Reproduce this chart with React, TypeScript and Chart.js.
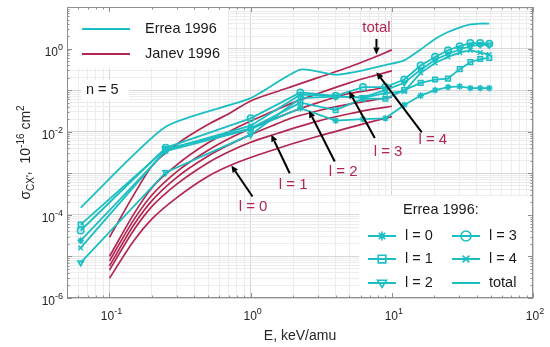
import React, { useEffect, useRef } from 'react';
import { Chart, registerables } from 'chart.js';
Chart.register(...registerables);

const TEAL = '#1bbfc3';
const RED = '#b3264f';
const FONT = '"Liberation Sans", Arial, Helvetica, sans-serif';

// Errea 1996 (energies keV/amu)
const E_ERREA = [0.0625, 0.25, 1, 2.25, 4, 6.25, 9, 12.25, 16, 20.25, 25, 30.25, 36, 42.25, 49];
const ERREA_L0 = [2.4e-5, 0.0034, 0.0115, 0.037, 0.0185, 0.02, 0.021, 0.044, 0.074, 0.1, 0.118, 0.123, 0.112, 0.112, 0.112];
const ERREA_L1 = [5.8e-5, 0.0038, 0.012, 0.05, 0.033, 0.062, 0.062, 0.1, 0.15, 0.18, 0.19, 0.32, 0.47, 0.56, 0.6];
const ERREA_L2 = [7.1e-6, 0.00105, 0.0085, 0.064, 0.07, 0.067, 0.1, 0.15, 0.31, 0.54, 0.74, 0.95, 1.15, 1.25, 1.22];
const ERREA_L3 = [4.2e-5, 0.0041, 0.021, 0.088, 0.073, 0.118, 0.118, 0.18, 0.39, 0.63, 0.91, 1.14, 1.35, 1.35, 1.3];
const ERREA_L4 = [1.6e-5, 0.0036, 0.014, 0.078, 0.072, 0.065, 0.085, 0.093, 0.26, 0.45, 0.63, 0.8, 0.92, 0.8, 0.72];
const ERREA_TOTAL = [1.5e-4, 0.0132, 0.064, 0.31, 0.235, 0.3, 0.4, 0.52, 0.95, 1.7, 2.5, 3.2, 3.8, 4.0, 4.0];

// Janev 1996
const E_JANEV = [0.1, 0.15, 0.2, 0.3, 0.5, 0.7, 1, 1.5, 2, 3, 5, 7, 10];
const JANEV_L0 = [3e-6, 2.5e-5, 8e-5, 2.6e-4, 8.5e-4, 1.5e-3, 2.4e-3, 3.8e-3, 5.2e-3, 7.8e-3, 0.0125, 0.017, 0.023];
const JANEV_L1 = [4.7e-6, 4.5e-5, 1.6e-4, 5.5e-4, 1.8e-3, 3.3e-3, 5.6e-3, 8.8e-3, 0.012, 0.018, 0.027, 0.034, 0.041];
const JANEV_L2 = [5.9e-6, 6e-5, 2.2e-4, 8e-4, 2.6e-3, 4.8e-3, 8.5e-3, 0.015, 0.022, 0.032, 0.046, 0.056, 0.068];
const JANEV_L3 = [7.8e-6, 8e-5, 3e-4, 1.1e-3, 3.6e-3, 6.8e-3, 0.012, 0.021, 0.031, 0.05, 0.083, 0.1, 0.125];
const JANEV_L4 = [1e-5, 1.1e-4, 4.5e-4, 1.6e-3, 5.4e-3, 0.01, 0.018, 0.033, 0.05, 0.083, 0.15, 0.21, 0.29];
const JANEV_TOTAL = [2.9e-5, 3.2e-4, 1.5e-3, 5e-3, 0.015, 0.027, 0.055, 0.09, 0.125, 0.2, 0.36, 0.56, 0.93];

// axes
const X_MIN = 0.05, X_MAX = 100, Y_MIN = 1e-6, Y_MAX = 10;
const X_TICK_EXP = [-1, 0, 1, 2];
const Y_TICK_EXP = [0, -2, -4, -6];

// annotations (red labels with arrows), in data coordinates
const ANN_LABELS = ['total', 'l = 4', 'l = 3', 'l = 2', 'l = 1', 'l = 0'];
const ANN_TEXT_E = [7.78, 19.5, 9.4, 4.52, 2.0, 1.04];
const ANN_TEXT_S = [3.15, 0.0062, 0.00335, 0.0011, 5.3e-4, 1.58e-4];
const ARROW_TAIL_E = [7.78, 16.3, 7.57, 3.94, 1.89, 1.03];
const ARROW_TAIL_S = [1.71, 0.0096, 0.00705, 0.00192, 1.0e-3, 2.76e-4];
const ARROW_HEAD_E = [7.78, 7.78, 4.98, 2.59, 1.4, 0.73];
const ARROW_HEAD_S = [0.716, 0.268, 0.0935, 0.032, 0.0085, 1.54e-3];

const ERREA_SERIES = [
  { label: 'l = 0', data: ERREA_L0, style: 'star', rot: 0 },
  { label: 'l = 1', data: ERREA_L1, style: 'rect', rot: 0 },
  { label: 'l = 2', data: ERREA_L2, style: 'triangle', rot: 180 },
  { label: 'l = 3', data: ERREA_L3, style: 'circle', rot: 0 },
  { label: 'l = 4', data: ERREA_L4, style: 'crossRot', rot: 0 },
];
const JANEV_SERIES = [JANEV_L0, JANEV_L1, JANEV_L2, JANEV_L3, JANEV_L4, JANEV_TOTAL];

function logTicks(min: number, max: number) {
  const out: { value: number }[] = [];
  for (let e = -7; e <= 3; e++) {
    for (let m = 1; m <= 9; m++) {
      const v = m * Math.pow(10, e);
      if (v >= min * 0.9999 && v <= max * 1.0001) out.push({ value: v });
    }
  }
  return out;
}
function isMajor(v: number) {
  const l = Math.log10(v);
  return Math.abs(l - Math.round(l)) < 1e-6;
}

function drawMarker(ctx: CanvasRenderingContext2D, style: string, x: number, y: number, r: number) {
  ctx.beginPath();
  if (style === 'star') {
    ctx.moveTo(x - r, y); ctx.lineTo(x + r, y);
    ctx.moveTo(x, y - r); ctx.lineTo(x, y + r);
    const d = r * 0.707;
    ctx.moveTo(x - d, y - d); ctx.lineTo(x + d, y + d);
    ctx.moveTo(x - d, y + d); ctx.lineTo(x + d, y - d);
  } else if (style === 'rect') {
    ctx.rect(x - r * 0.85, y - r * 0.85, r * 1.7, r * 1.7);
  } else if (style === 'triangle') {
    ctx.moveTo(x - r, y - r * 0.6); ctx.lineTo(x + r, y - r * 0.6); ctx.lineTo(x, y + r); ctx.closePath();
  } else if (style === 'circle') {
    ctx.arc(x, y, r, 0, Math.PI * 2);
  } else if (style === 'crossRot') {
    const d = r * 0.75;
    ctx.moveTo(x - d, y - d); ctx.lineTo(x + d, y + d);
    ctx.moveTo(x - d, y + d); ctx.lineTo(x + d, y - d);
  }
  ctx.stroke();
}

function drawPow(ctx: CanvasRenderingContext2D, exp: number, x: number, y: number, align: 'center' | 'right') {
  ctx.font = `12px ${FONT}`;
  const base = '10';
  const wb = ctx.measureText(base).width;
  ctx.font = `9px ${FONT}`;
  const sup = String(exp);
  const ws = ctx.measureText(sup).width;
  const total = wb + ws;
  const x0 = align === 'center' ? x - total / 2 : x - total;
  ctx.textAlign = 'left';
  ctx.textBaseline = 'alphabetic';
  ctx.font = `12px ${FONT}`;
  ctx.fillText(base, x0, y);
  ctx.font = `9px ${FONT}`;
  ctx.fillText(sup, x0 + wb, y - 6);
}

function drawArrow(ctx: CanvasRenderingContext2D, x1: number, y1: number, x2: number, y2: number) {
  const ang = Math.atan2(y2 - y1, x2 - x1);
  const hl = 7, hw = 3.2;
  const bx = x2 - hl * Math.cos(ang), by = y2 - hl * Math.sin(ang);
  ctx.beginPath();
  ctx.moveTo(x1, y1); ctx.lineTo(bx, by);
  ctx.stroke();
  ctx.beginPath();
  ctx.moveTo(x2, y2);
  ctx.lineTo(bx + hw * Math.sin(ang), by - hw * Math.cos(ang));
  ctx.lineTo(bx - hw * Math.sin(ang), by + hw * Math.cos(ang));
  ctx.closePath();
  ctx.fill();
}

const decorPlugin = {
  id: 'decor',
  beforeDatasetsDraw(chart: any) {
    const { ctx, chartArea: a } = chart;
    ctx.save();
    ctx.fillStyle = '#ffffff';
    ctx.fillRect(a.left + 1, a.top + 1, 160, 60);
    ctx.fillRect(a.left + 14, a.top + 73, 48, 20);
    ctx.fillRect(a.right - 174, a.bottom - 102, 173, 101);
    ctx.restore();
  },
  afterDraw(chart: any) {
    const { ctx, chartArea: a } = chart;
    const xs = chart.scales.x, ys = chart.scales.y;
    ctx.save();
    // box
    ctx.strokeStyle = '#8f8f8f';
    ctx.lineWidth = 1;
    ctx.strokeRect(a.left + 0.5, a.top + 0.5, a.right - a.left - 1, a.bottom - a.top - 1);
    // inner ticks
    ctx.beginPath();
    for (const t of logTicks(X_MIN, X_MAX)) {
      const px = Math.round(xs.getPixelForValue(t.value)) + 0.5;
      const len = isMajor(t.value) ? 5 : 2.5;
      ctx.moveTo(px, a.bottom); ctx.lineTo(px, a.bottom - len);
      ctx.moveTo(px, a.top); ctx.lineTo(px, a.top + len);
    }
    for (const t of logTicks(Y_MIN, Y_MAX)) {
      const py = Math.round(ys.getPixelForValue(t.value)) + 0.5;
      const len = isMajor(t.value) ? 5 : 2.5;
      ctx.moveTo(a.left, py); ctx.lineTo(a.left + len, py);
      ctx.moveTo(a.right, py); ctx.lineTo(a.right - len, py);
    }
    ctx.stroke();

    // tick labels
    ctx.fillStyle = '#262626';
    for (const e of X_TICK_EXP) {
      drawPow(ctx, e, xs.getPixelForValue(Math.pow(10, e)) + 2, a.bottom + 22, 'center');
    }
    for (const e of Y_TICK_EXP) {
      drawPow(ctx, e, a.left - 4, ys.getPixelForValue(Math.pow(10, e)) + 7, 'right');
    }
    // x title
    ctx.font = `14px ${FONT}`;
    ctx.textAlign = 'center';
    ctx.textBaseline = 'alphabetic';
    ctx.fillText('E, keV/amu', (a.left + a.right) / 2, a.bottom + 42);
    // y title
    ctx.save();
    ctx.translate(30, (a.top + a.bottom) / 2);
    ctx.rotate(-Math.PI / 2);
    const parts: [string, number, number][] = [
      ['σ', 14, 0], ['CX\'', 10, 4], [',  10', 14, 0], ['-16', 10, -6], [' cm', 14, 0], ['2', 10, -6],
    ];
    let tw = 0;
    for (const [s, f] of parts) { ctx.font = `${f}px ${FONT}`; tw += ctx.measureText(s).width; }
    let cx = -tw / 2;
    ctx.textAlign = 'left';
    for (const [s, f, dy] of parts) {
      ctx.font = `${f}px ${FONT}`;
      ctx.fillText(s, cx, dy);
      cx += ctx.measureText(s).width;
    }
    ctx.restore();

    // top-left legend
    ctx.lineWidth = 2;
    ctx.strokeStyle = TEAL;
    ctx.beginPath(); ctx.moveTo(a.left + 15, a.top + 22); ctx.lineTo(a.left + 63, a.top + 22); ctx.stroke();
    ctx.strokeStyle = RED;
    ctx.beginPath(); ctx.moveTo(a.left + 15, a.top + 47); ctx.lineTo(a.left + 63, a.top + 47); ctx.stroke();
    ctx.fillStyle = '#1a1a1a';
    ctx.font = `14.5px ${FONT}`;
    ctx.textAlign = 'left';
    ctx.textBaseline = 'middle';
    ctx.fillText('Errea 1996', a.left + 78, a.top + 22);
    ctx.fillText('Janev 1996', a.left + 78, a.top + 47);
    ctx.fillText('n = 5', a.left + 19, a.top + 83);

    // bottom-right legend
    ctx.fillText('Errea 1996:', a.right - 130, a.bottom - 88);
    const colX = [a.right - 165, a.right - 81];
    const rowY = [a.bottom - 62, a.bottom - 39, a.bottom - 15];
    const entries = [...ERREA_SERIES.map(s => ({ label: s.label, style: s.style })), { label: 'total', style: 'none' }];
    entries.forEach((en, i) => {
      const col = i < 3 ? 0 : 1;
      const row = i % 3;
      const x0 = colX[col], y0 = rowY[row];
      ctx.strokeStyle = TEAL;
      ctx.lineWidth = 2;
      ctx.beginPath(); ctx.moveTo(x0, y0); ctx.lineTo(x0 + 28, y0); ctx.stroke();
      if (en.style !== 'none') {
        ctx.lineWidth = 1.6;
        drawMarker(ctx, en.style, x0 + 14, y0, en.style === 'circle' ? 5 : 4.5);
      }
      ctx.fillStyle = '#1a1a1a';
      ctx.font = `14.5px ${FONT}`;
      ctx.fillText(en.label, x0 + 37, y0);
    });

    // red annotations with arrows
    ctx.font = `15px ${FONT}`;
    ctx.textAlign = 'center';
    ctx.textBaseline = 'middle';
    ANN_LABELS.forEach((lab, i) => {
      ctx.fillStyle = RED;
      ctx.fillText(lab, xs.getPixelForValue(ANN_TEXT_E[i]), ys.getPixelForValue(ANN_TEXT_S[i]));
      ctx.strokeStyle = '#000';
      ctx.fillStyle = '#000';
      ctx.lineWidth = 2;
      drawArrow(ctx,
        xs.getPixelForValue(ARROW_TAIL_E[i]), ys.getPixelForValue(ARROW_TAIL_S[i]),
        xs.getPixelForValue(ARROW_HEAD_E[i]), ys.getPixelForValue(ARROW_HEAD_S[i]));
    });
    ctx.restore();
  },
};

export default function App() {
  const ref = useRef<HTMLCanvasElement | null>(null);
  useEffect(() => {
    if (!ref.current) return;
    const errDatasets = ERREA_SERIES.map(s => ({
      label: 'Errea ' + s.label,
      data: E_ERREA.map((e, i) => ({ x: e, y: s.data[i] })),
      borderColor: TEAL,
      backgroundColor: 'transparent',
      borderWidth: 1.8,
      pointStyle: s.style,
      pointRotation: s.rot,
      pointRadius: 3.3,
      pointBorderWidth: 1.5,
      pointBorderColor: TEAL,
      pointBackgroundColor: 'rgba(27,191,195,0.25)',
      tension: 0,
    }));
    const errTotal = {
      label: 'Errea total',
      data: E_ERREA.map((e, i) => ({ x: e, y: ERREA_TOTAL[i] })),
      borderColor: TEAL,
      backgroundColor: 'transparent',
      borderWidth: 1.8,
      pointRadius: 0,
      tension: 0.2,
    };
    const janev = JANEV_SERIES.map((arr, k) => ({
      label: 'Janev ' + k,
      data: E_JANEV.map((e, i) => ({ x: e, y: arr[i] })),
      borderColor: RED,
      backgroundColor: 'transparent',
      borderWidth: 1.7,
      pointRadius: 0,
      cubicInterpolationMode: 'monotone' as const,
    }));
    const gridColor = (c: any) => (c.tick && isMajor(c.tick.value) ? '#d6d6d6' : '#ececec');
    const chart = new Chart(ref.current, {
      type: 'line',
      data: { datasets: [...errDatasets, errTotal, ...janev] as any },
      plugins: [decorPlugin as any],
      options: {
        animation: false,
        responsive: false,
        maintainAspectRatio: false,
        devicePixelRatio: 1,
        layout: { padding: { left: 0, right: 17, top: 7, bottom: 0 } },
        plugins: { legend: { display: false }, tooltip: { enabled: false } },
        scales: {
          x: {
            type: 'logarithmic', min: X_MIN, max: X_MAX,
            afterBuildTicks: (s: any) => { s.ticks = logTicks(X_MIN, X_MAX); },
            afterFit: (s: any) => { s.height = 49; },
            ticks: { display: false },
            grid: { color: gridColor, drawTicks: false, lineWidth: 1 },
            border: { display: false },
          },
          y: {
            type: 'logarithmic', min: Y_MIN, max: Y_MAX,
            afterBuildTicks: (s: any) => { s.ticks = logTicks(Y_MIN, Y_MAX); },
            afterFit: (s: any) => { s.width = 67; },
            ticks: { display: false },
            grid: { color: gridColor, drawTicks: false, lineWidth: 1 },
            border: { display: false },
          },
        },
      } as any,
    });
    return () => chart.destroy();
  }, []);
  return (
    <div style={{ position: 'absolute', left: 0, top: 0, width: 550, height: 347, background: '#fff' }}>
      <canvas ref={ref} width={550} height={347} style={{ display: 'block' }} />
    </div>
  );
}
